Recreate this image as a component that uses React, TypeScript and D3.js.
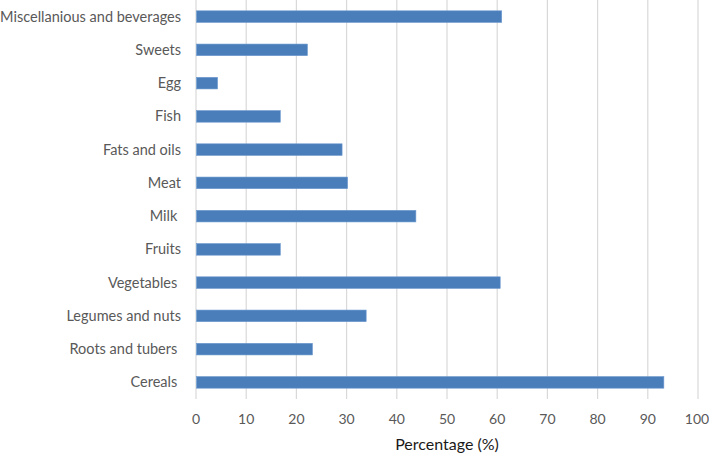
import { useEffect, useRef } from 'react'
import * as d3 from 'd3'

const categories = [
  'Miscellanious and beverages',
  'Sweets',
  'Egg',
  'Fish',
  'Fats and oils',
  'Meat',
  'Milk ',
  'Fruits',
  'Vegetables ',
  'Legumes and nuts',
  'Roots and tubers ',
  'Cereals ',
]
const percentages = [60.9, 22.2, 4.3, 16.8, 29.1, 30.2, 43.8, 16.8, 60.6, 33.9, 23.2, 93.2]
const xTicks = [0, 10, 20, 30, 40, 50, 60, 70, 80, 90, 100]
const xLabel = 'Percentage (%)'

const width = 709
const height = 453
const margin = { top: 0, right: 11, bottom: 54, left: 196 }
const barColor = '#4a7ebb'
const textColor = '#595959'
const font = 'Lato, "Open Sans", sans-serif'

export default function App() {
  const svgRef = useRef<SVGSVGElement>(null)

  useEffect(() => {
    if (!svgRef.current) return
    const svg = d3.select(svgRef.current)
    svg.selectAll('*').remove()

    const x = d3.scaleLinear()
      .domain([0, 100])
      .range([margin.left, width - margin.right])

    const y = d3.scaleBand()
      .domain(categories)
      .range([margin.top, height - margin.bottom])
      .paddingInner(0.65)
      .paddingOuter(0.325)

    // grid lines
    svg.append('g')
      .selectAll('line')
      .data(xTicks)
      .join('line')
      .attr('x1', d => x(d))
      .attr('x2', d => x(d))
      .attr('y1', margin.top)
      .attr('y2', height - margin.bottom)
      .attr('stroke', '#d9d9d9')
      .attr('stroke-width', 1.2)

    // bars
    svg.append('g')
      .selectAll('rect')
      .data(percentages)
      .join('rect')
      .attr('x', x(0) + 0.5)
      .attr('y', (_, i) => y(categories[i]) || 0)
      .attr('width', d => x(d) - x(0) - 0.5)
      .attr('height', y.bandwidth())
      .attr('fill', barColor)
      .attr('stroke', '#6f9bd0')
      .attr('stroke-width', 0.6)

    // category labels
    svg.append('g')
      .selectAll('text')
      .data(categories)
      .join('text')
      .attr('x', 181)
      .attr('y', d => (y(d) || 0) + y.bandwidth() / 2)
      .attr('dy', '0.35em')
      .attr('text-anchor', 'end')
      .style('white-space', 'pre')
      .attr('font-family', font)
      .attr('font-size', 14.5)
      .attr('fill', textColor)
      .text(d => d)

    // x tick labels
    svg.append('g')
      .selectAll('text')
      .data(xTicks)
      .join('text')
      .attr('x', d => Math.min(x(d), width - 12))
      .attr('y', 419)
      .attr('dy', '0.35em')
      .attr('text-anchor', 'middle')
      .attr('font-family', font)
      .attr('font-size', 14)
      .attr('fill', textColor)
      .text(d => d)

    svg.append('text')
      .attr('x', (x(0) + x(100)) / 2)
      .attr('y', 444)
      .attr('dy', '0.35em')
      .attr('text-anchor', 'middle')
      .attr('font-family', font)
      .attr('font-size', 16)
      .attr('fill', '#1a1a1a')
      .text(xLabel)
  }, [])

  return (
    <div style={{ position: 'fixed', left: 0, top: 0, width, height, background: '#fff' }}>
      <svg ref={svgRef} width={width} height={height} />
    </div>
  )
}
